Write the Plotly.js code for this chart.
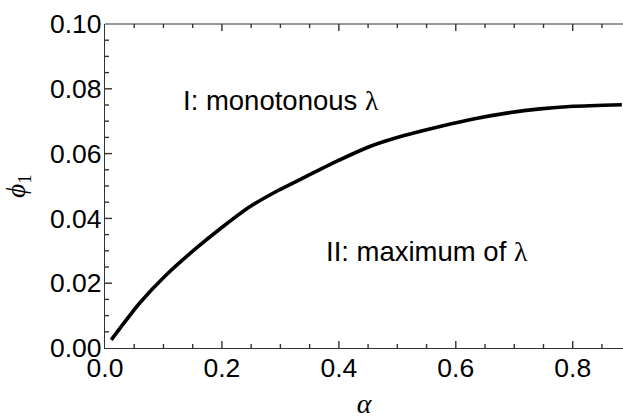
<!DOCTYPE html>
<html>
<head>
<meta charset="utf-8">
<script src="https://cdn.plot.ly/plotly-3.0.1.min.js"></script>
<style>
html,body{margin:0;padding:0;background:#fff;overflow:hidden;}
#chart{width:623px;height:419px;}
</style>
</head>
<body>
<div id="chart"></div>
<script>
// Boundary curve phi_1(alpha)
const alpha = [0.0106, 0.059, 0.105, 0.156, 0.202, 0.247, 0.296, 0.339, 0.396, 0.453, 0.510, 0.573, 0.630, 0.687, 0.744, 0.801, 0.884];
const phi1  = [0.0025, 0.0138, 0.0226, 0.0308, 0.0375, 0.0435, 0.0486, 0.0525, 0.0576, 0.0622, 0.0655, 0.0684, 0.0707, 0.0725, 0.0738, 0.0746, 0.0751];

const xTickVals = [0, 0.2, 0.4, 0.6, 0.8];
const xTickText = ['0.0', '0.2', '0.4', '0.6', '0.8'];
const yTickVals = [0, 0.02, 0.04, 0.06, 0.08, 0.10];
const yTickText = ['0.00', '0.02', '0.04', '0.06', '0.08', '0.10'];
const xMinorStep = 0.05;
const yMinorStep = 0.005;

const regionLabels = ['I: monotonous <span style="font-family:\'Liberation Serif\',serif">λ</span>',
                      'II: maximum of <span style="font-family:\'Liberation Serif\',serif">λ</span>'];
const regionX = [0.301, 0.551];
const regionY = [0.0765, 0.0298];

const xTitle = '<i>α</i>';
const yTitle = '<i>ϕ</i><sub>1</sub>';

const W = 623, H = 419, M = {l: 105, r: 0, t: 24, b: 71};
const plotW = W - M.l - M.r, plotH = H - M.t - M.b;
const xRange = [0, 0.886], yRange = [0, 0.1];
const axisColor = '#333';
const tickFont = {family: 'Liberation Sans, Arial, sans-serif', size: 26.5, color: '#000'};

// tick marks drawn as inside ticks on left, bottom and top edges
const shapes = [];
const tl = {major: 7, minor: 4};
const tickLine = {color: axisColor, width: 1.4};
function isMajor(v, vals) { return vals.some(m => Math.abs(m - v) < 1e-9); }
for (let i = 1; xMinorStep * i < xRange[1]; i++) {
  const v = +(xMinorStep * i).toFixed(4);
  const len = (isMajor(v, xTickVals) ? tl.major : tl.minor) / plotH;
  shapes.push({type: 'line', xref: 'x', yref: 'paper', x0: v, x1: v, y0: 0, y1: len, line: tickLine});
  shapes.push({type: 'line', xref: 'x', yref: 'paper', x0: v, x1: v, y0: 1, y1: 1 - len, line: tickLine});
}
for (let i = 1; yMinorStep * i < yRange[1] - 1e-9; i++) {
  const v = +(yMinorStep * i).toFixed(4);
  const len = (isMajor(v, yTickVals) ? tl.major : tl.minor) / plotW;
  shapes.push({type: 'line', xref: 'paper', yref: 'y', x0: 0, x1: len, y0: v, y1: v, line: tickLine});
}
// top frame line
shapes.push({type: 'line', xref: 'paper', yref: 'paper', x0: 0, x1: 1, y0: 1, y1: 1, line: {color: axisColor, width: 1.2}});

const data = [{
  x: alpha, y: phi1, type: 'scatter', mode: 'lines',
  line: {color: '#000', width: 3.6, shape: 'spline', smoothing: 0.6},
  hoverinfo: 'skip'
}];

const layout = {
  width: W, height: H,
  margin: M,
  paper_bgcolor: '#fff', plot_bgcolor: '#fff',
  showlegend: false,
  xaxis: {
    range: xRange, tickmode: 'array', tickvals: xTickVals, ticktext: xTickText,
    ticks: '', showline: true, linecolor: axisColor, linewidth: 1.2,
    showgrid: false, zeroline: false,
    tickfont: tickFont,
    ticklabelstandoff: -4,
    title: {text: xTitle, font: {family: 'Liberation Serif, serif', size: 28, color: '#000'}, standoff: 20}
  },
  yaxis: {
    range: yRange, tickmode: 'array', tickvals: yTickVals, ticktext: yTickText,
    ticks: '', showline: true, linecolor: axisColor, linewidth: 1.2,
    showgrid: false, zeroline: false,
    tickfont: tickFont,
    ticklabelstandoff: -3,
    title: {text: yTitle, font: {family: 'Liberation Serif, serif', size: 27, color: '#000'}, standoff: 16}
  },
  shapes: shapes,
  annotations: regionLabels.map((t, i) => ({
    text: t, x: regionX[i], y: regionY[i], xref: 'x', yref: 'y',
    showarrow: false, xanchor: 'center', yanchor: 'middle',
    font: {family: 'Liberation Sans, Arial, sans-serif', size: 27.5, color: '#000'}
  }))
};

Plotly.newPlot('chart', data, layout, {staticPlot: true, displayModeBar: false});
</script>
</body>
</html>
